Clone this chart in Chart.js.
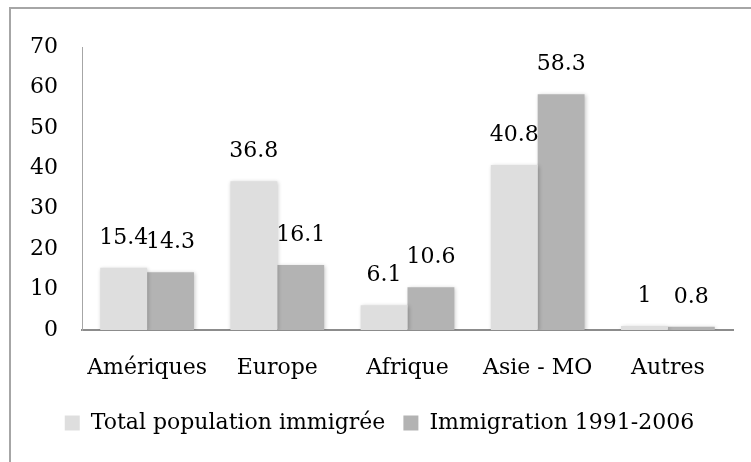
<!DOCTYPE html>
<html>
<head>
<meta charset="utf-8">
<script src="https://cdn.jsdelivr.net/npm/chart.js@4"></script>
<style>
html,body{margin:0;padding:0;background:#fff;}
#wrap{position:relative;width:751px;height:462px;}
</style>
</head>
<body>
<div id="wrap"><canvas id="c" width="751" height="462"></canvas></div>
<script>
const categories = ["Amériques", "Europe", "Afrique", "Asie - MO", "Autres"];
const seriesNames = ["Total population immigrée", "Immigration 1991-2006"];
const totalPopulation = [15.4, 36.8, 6.1, 40.8, 1];
const immigration9106 = [14.3, 16.1, 10.6, 58.3, 0.8];
const yTicks = [0, 10, 20, 30, 40, 50, 60, 70];

const FONT = "'DejaVu Serif', serif";
const FS = 22;

const framePlugin = {
  id: 'frame',
  beforeDraw(chart) {
    const ctx = chart.ctx;
    ctx.save();
    ctx.strokeStyle = '#a6a6a6';
    ctx.lineWidth = 2;
    ctx.beginPath();
    ctx.moveTo(10, 462);
    ctx.lineTo(10, 8);
    ctx.lineTo(751, 8);
    ctx.stroke();
    ctx.restore();
  }
};

const shadowPlugin = {
  id: 'shadow',
  beforeDatasetDraw(chart) {
    const ctx = chart.ctx;
    ctx.save();
    ctx.shadowColor = 'rgba(0,0,0,0.22)';
    ctx.shadowBlur = 4;
    ctx.shadowOffsetX = 1;
    ctx.shadowOffsetY = 1;
  },
  afterDatasetDraw(chart) {
    chart.ctx.restore();
  }
};

const labelPlugin = {
  id: 'valueLabels',
  afterDatasetsDraw(chart) {
    const ctx = chart.ctx;
    ctx.save();
    ctx.font = FS + 'px ' + FONT;
    ctx.fillStyle = '#000';
    ctx.textAlign = 'center';
    ctx.textBaseline = 'alphabetic';
    chart.data.datasets.forEach((ds, i) => {
      const meta = chart.getDatasetMeta(i);
      meta.data.forEach((bar, j) => {
        ctx.fillText(String(ds.data[j]), bar.x, bar.y - 24);
      });
    });
    ctx.restore();
  }
};

new Chart(document.getElementById('c'), {
  type: 'bar',
  data: {
    labels: categories,
    datasets: [
      { label: seriesNames[0], data: totalPopulation, backgroundColor: '#dedede', borderWidth: 0 },
      { label: seriesNames[1], data: immigration9106, backgroundColor: '#b3b3b3', borderWidth: 0 }
    ]
  },
  options: {
    responsive: false,
    animation: false,
    devicePixelRatio: 1,
    layout: { padding: { left: 26, right: 18, top: 47, bottom: 18 } },
    datasets: { bar: { categoryPercentage: 0.72, barPercentage: 1.0 } },
    plugins: {
      legend: {
        position: 'bottom',
        labels: {
          color: '#000',
          font: { family: FONT, size: FS },
          boxWidth: 15, boxHeight: 15, padding: 18
        }
      },
      tooltip: { enabled: false }
    },
    scales: {
      x: {
        grid: { display: false, drawTicks: false },
        border: { color: '#8c8c8c', width: 2 },
        ticks: { color: '#000', font: { family: FONT, size: FS }, padding: 25 },
        afterFit(scale) { scale.height = 64; }
      },
      y: {
        min: 0, max: 70,
        afterBuildTicks(scale) { scale.ticks = yTicks.map(v => ({ value: v })); },
        grid: { display: false, drawTicks: false },
        border: { color: '#a6a6a6', width: 1 },
        ticks: { color: '#000', font: { family: FONT, size: FS }, padding: 24 },
        afterFit(scale) { scale.width = 56; }
      }
    }
  },
  plugins: [framePlugin, shadowPlugin, labelPlugin]
});
</script>
</body>
</html>
